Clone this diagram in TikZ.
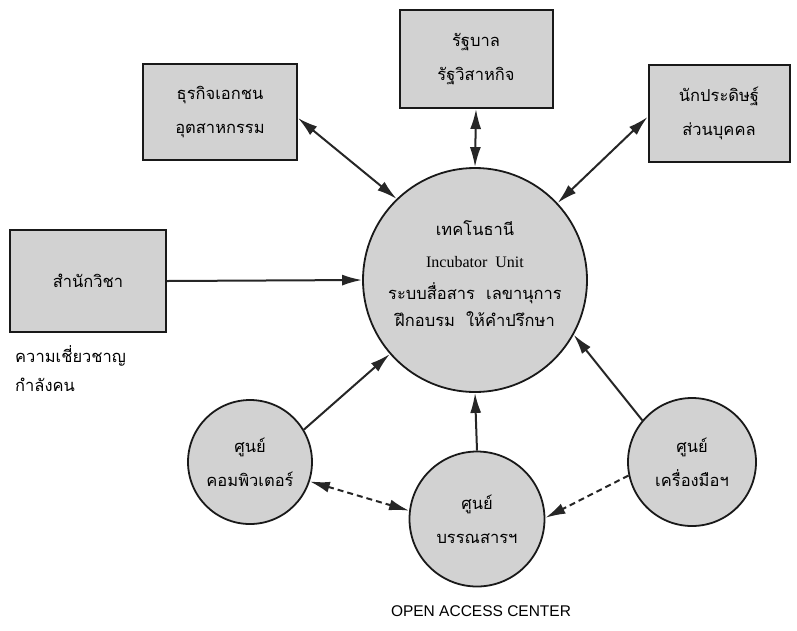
\documentclass[tikz,border=0pt]{standalone}
\usepackage{fontspec}
\newfontfamily\thai[Script=Thai]{Loma}
\newfontfamily\latinserif{Liberation Serif}
\setsansfont{Liberation Sans}
\usetikzlibrary{arrows.meta}
\begin{document}
\begin{tikzpicture}[x=1pt,y=-1pt,
  thaitext/.style={font=\thai\fontsize{16.5}{34}\selectfont},
  box/.style={draw=black!90, line width=2pt, fill=gray!35, align=center, inner sep=0pt, thaitext},
  circ/.style={circle, draw=black!90, line width=1.8pt, fill=gray!35, align=center, inner sep=0pt, thaitext},
  arr/.style={line width=2pt, draw=black!85, -{Latex[length=20pt,width=11pt]}},
  darr/.style={line width=2pt, draw=black!85, {Latex[length=20pt,width=11pt]}-{Latex[length=20pt,width=11pt]}},
  dasharr/.style={arr, dashed, dash pattern=on 6pt off 4pt},
  ddasharr/.style={darr, dashed, dash pattern=on 6pt off 4pt}]
\useasboundingbox (0,0) rectangle (797,630);
\node[box, minimum width=154pt, minimum height=96pt] (biz) at (220,112) {ธุรกิจเอกชน\\อุตสาหกรรม};
\node[box, minimum width=153pt, minimum height=98pt] (gov) at (476,59) {รัฐบาล\\รัฐวิสาหกิจ};
\node[box, minimum width=141pt, minimum height=97pt] (inv) at (719,113) {นักประดิษฐ์\\ส่วนบุคคล};
\node[box, minimum width=156pt, minimum height=102pt] (acad) at (88,281) {สำนักวิชา};
\node[circ, minimum size=224pt] (main) at (475,280) {};
\node[align=center, thaitext, inner sep=0pt] (maintext) at (475,274) {เทคโนธานี\\[-2pt]{\latinserif\fontsize{16}{20}\selectfont Incubator~~Unit}\\[-2pt]ระบบสื่อสาร~~เลขานุการ\\[-7pt]ฝึกอบรม~~ให้คำปรึกษา};
\node[circ, minimum size=124pt] (comp) at (250,462) {ศูนย์\\คอมพิวเตอร์};
\node[circ, minimum size=135pt] (lib) at (477,519) {ศูนย์\\บรรณสารฯ};
\node[circ, minimum size=128pt] (tool) at (692,462) {ศูนย์\\เครื่องมือฯ};
\node[anchor=west, thaitext, inner sep=0pt] (exp) at (15,356) {ความเชี่ยวชาญ};
\node[anchor=west, thaitext, inner sep=0pt] (man) at (15,385) {กำลังคน};
\node[font=\sffamily\fontsize{15.5}{18}\selectfont] (oac) at (481,611) {OPEN ACCESS CENTER};
\draw[darr] ([yshift=-6pt]biz.east) -- (main.134);
\draw[darr] (gov.south) -- (main.north);
\draw[darr] ([yshift=-4pt]inv.west) -- (main.43);
\draw[arr] (acad.east) -- (main.west);
\draw[arr] (comp.31) -- (main.221);
\draw[arr] (lib.north) -- (main.south);
\draw[arr] (tool.140) -- (main.331);
\draw[ddasharr] (comp.342) -- (lib.173);
\draw[dasharr] (tool.192) -- (lib.1);
\end{tikzpicture}
\end{document}
